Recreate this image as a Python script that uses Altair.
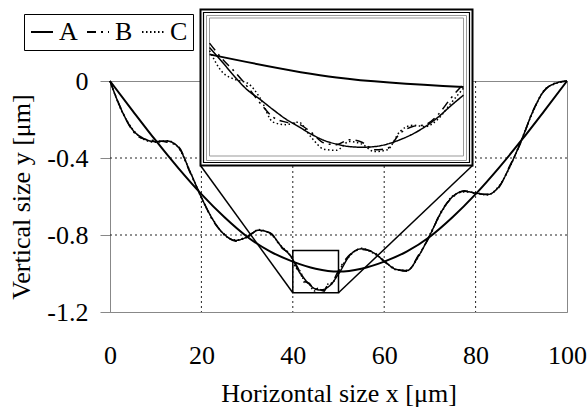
import altair as alt
import pandas as pd

# ---------------- data ----------------
# sampling positions for the wavy profiles (µm)
X = [0, 2.5, 5, 7.5, 10, 12.5, 15, 17.5, 20, 22.5, 25, 27.5, 30, 32.5, 35, 37.5,
     40, 40.5, 41, 41.5, 42, 42.5, 43, 43.5, 44, 44.5, 45, 45.5, 46, 46.5, 47,
     47.5, 48, 48.5, 49, 49.5, 50,
     52.5, 55, 57.5, 60, 62.5, 65, 67.5, 70, 72.5, 75, 77.5, 80, 82.5, 85, 87.5,
     90, 92.5, 95, 97.5, 100]

# smooth wavy profile (solid, series A)
W = [0, -0.15, -0.255, -0.30, -0.315, -0.312, -0.345, -0.47, -0.605, -0.72,
     -0.797, -0.828, -0.81, -0.775, -0.79, -0.86,
     -0.927, -0.950, -0.974, -0.995, -1.010, -1.026, -1.041, -1.053, -1.065,
     -1.075, -1.081, -1.085, -1.086, -1.085, -1.081, -1.074, -1.065, -1.053,
     -1.038, -1.020, -1.003,
     -0.905, -0.872, -0.89, -0.935, -0.978, -0.985, -0.91, -0.80, -0.68, -0.60,
     -0.573, -0.582, -0.59, -0.552, -0.444, -0.31, -0.16, -0.05, -0.012, 0]

# series B (dash-dot)
B = [0, -0.148, -0.26, -0.302, -0.31, -0.318, -0.342, -0.475, -0.602, -0.725,
     -0.795, -0.832, -0.806, -0.778, -0.788, -0.865,
     -0.920, -0.945, -0.966, -0.990, -1.016, -1.038, -1.046, -1.049, -1.062,
     -1.079, -1.082, -1.074, -1.078, -1.090, -1.088, -1.064, -1.053, -1.050,
     -1.034, -1.008, -0.985,
     -0.902, -0.875, -0.886, -0.938, -0.975, -0.988, -0.905, -0.805, -0.676,
     -0.604, -0.57, -0.585, -0.588, -0.556, -0.44, -0.314, -0.157, -0.052, -0.01, 0]

# series C (dotted)
C = [0, -0.153, -0.252, -0.305, -0.318, -0.31, -0.348, -0.468, -0.608, -0.718,
     -0.8, -0.826, -0.813, -0.772, -0.793, -0.858,
     -0.932, -0.966, -0.978, -0.984, -1.008, -1.046, -1.050, -1.046, -1.070,
     -1.089, -1.091, -1.077, -1.081, -1.093, -1.090, -1.061, -1.051, -1.053,
     -1.041, -1.016, -0.992,
     -0.908, -0.869, -0.893, -0.932, -0.98, -0.983, -0.913, -0.797, -0.684,
     -0.597, -0.576, -0.58, -0.592, -0.549, -0.447, -0.307, -0.163, -0.048, -0.014, 0]

# smooth arc (solid, series A)
XA = [0, 5, 10, 15, 20, 25, 30, 35, 40, 45, 50, 55, 60, 65, 70, 75, 80, 85, 90, 95, 100]
YA = [0, -0.156, -0.309, -0.454, -0.588, -0.707, -0.809, -0.885, -0.938, -0.975,
      -0.99, -0.975, -0.938, -0.885, -0.809, -0.707, -0.588, -0.454, -0.309, -0.156, 0]

SERIES = ["A", "B", "C"]
X_TICKS = [0, 20, 40, 60, 80, 100]
Y_TICKS = [-1.2, -0.8, -0.4, 0]
GRID_X = [20, 40, 60, 80]
GRID_Y = [-0.4, -0.8]
BOX_X = [40, 50]          # zoomed region
BOX_Y = [-1.1, -0.88]

# ---------------- layout ----------------
PLOT_W, PLOT_H = 457, 231
PAD = {"left": 110, "top": 81, "right": 20, "bottom": 102}
FONT = "Liberation Serif, Times New Roman, Times, serif"
FS = 26

# inset plot area in pixels relative to the plot origin
IL, IR, IT, IB = 99.5, 353.5, -63.0, 75.0


def px_to_x(px):
    return px / PLOT_W * 100.0


def py_to_y(py):
    return -py / PLOT_H * 1.2


IX0, IX1 = px_to_x(IL), px_to_x(IR)
IY0, IY1 = py_to_y(IT), py_to_y(IB)

xs = alt.Scale(domain=[0, 100], nice=False, zero=False)
ys = alt.Scale(domain=[-1.2, 0], nice=False, zero=False)

XAX = alt.Axis(values=X_TICKS, ticks=False, tickSize=0, grid=False, domainColor="#888",
               labelFont=FONT, labelFontSize=FS, labelPadding=30, labelFlush=False,
               labelOverlap=False, labelColor="black",
               title="Horizontal size x [μm]", titleFont=FONT, titleFontSize=FS,
               titleFontWeight="normal", titleColor="black", titlePadding=12)
YAX = alt.Axis(values=Y_TICKS, tickSize=10, tickColor="#888", grid=False, domainColor="#888",
               labelFont=FONT, labelFontSize=FS, labelPadding=12, labelFlush=False,
               labelOverlap=False, labelColor="black",
               labelExpr="datum.value == 0 ? '0' : '-' + format(abs(datum.value), '.1f')",
               title="Vertical size y [μm]", titleFont=FONT, titleFontSize=FS,
               titleFontWeight="normal", titleColor="black", titlePadding=12)

dash_scale = alt.Scale(domain=SERIES, range=[[1, 0], [9, 5, 2, 5], [1.5, 2.5]])
LEG = alt.Legend(title=None, orient="none", legendX=-86, legendY=-67, direction="horizontal",
                 symbolType="stroke", symbolSize=484, symbolStrokeWidth=2,
                 symbolStrokeColor="black", labelFont=FONT, labelFontSize=FS,
                 labelColor="black", labelOffset=4, columnPadding=5, padding=5,
                 strokeColor="black", fillColor="white")

n = len(X)
prof = pd.DataFrame({"x": X * 3, "y": W + B + C,
                     "series": [SERIES[0]] * n + [SERIES[1]] * n + [SERIES[2]] * n})
arc = pd.DataFrame({"x": XA, "y": YA})


def xenc(f):
    return alt.X(f, type="quantitative", scale=xs, axis=XAX)


def yenc(f):
    return alt.Y(f, type="quantitative", scale=ys, axis=YAX)


one = pd.DataFrame({"k": [0]})

grid_x = alt.Chart(pd.DataFrame({"x": GRID_X})).mark_rule(
    color="#222", strokeDash=[2, 3], strokeWidth=1).encode(x=xenc("x"))
grid_y = alt.Chart(pd.DataFrame({"y": GRID_Y})).mark_rule(
    color="#222", strokeDash=[2, 3], strokeWidth=1).encode(y=yenc("y"))

arc_line = alt.Chart(arc).mark_line(color="black", strokeWidth=2, interpolate="monotone").encode(
    x=xenc("x"), y=yenc("y"))

prof_line = alt.Chart(prof).mark_line(color="black", strokeWidth=1.5, interpolate="monotone").encode(
    x=xenc("x"), y=yenc("y"),
    strokeDash=alt.StrokeDash("series:N", scale=dash_scale, legend=LEG))

box = alt.Chart(pd.DataFrame({"x0": [BOX_X[0]], "x1": [BOX_X[1]],
                              "y0": [BOX_Y[0]], "y1": [BOX_Y[1]]})).mark_rect(
    fill="transparent", stroke="black", strokeWidth=1.5).encode(
    x=xenc("x0"), x2="x1:Q", y=yenc("y0"), y2="y1:Q")

conn_l = alt.Chart(pd.DataFrame({"x": [BOX_X[0]], "y": [BOX_Y[0]]})).mark_rule(
    color="black", strokeWidth=1.5).encode(
    x=xenc("x"), y=yenc("y"), x2=alt.value(90.5), y2=alt.value(84.5))
conn_r = alt.Chart(pd.DataFrame({"x": [BOX_X[1]], "y": [BOX_Y[0]]})).mark_rule(
    color="black", strokeWidth=1.5).encode(
    x=xenc("x"), y=yenc("y"), x2=alt.value(362.5), y2=alt.value(84.5))


def frame(x0, x1, y0, y1, color, width, fill="transparent"):
    return alt.Chart(one).mark_rect(fill=fill, stroke=color, strokeWidth=width).encode(
        x=alt.value(x0), x2=alt.value(x1), y=alt.value(y0), y2=alt.value(y1))


f1 = frame(90.5, 362.5, -71.5, 84.5, "black", 2, "white")
f2 = frame(93.5, 359.5, -68.5, 81.5, "black", 1.2)
f3 = frame(96.5, 356.5, -65.5, 79.5, "#999", 1)
f4 = frame(IL, IR, IT, IB, "#999", 1)

lo, hi = BOX_X
ytop, ybot = BOX_Y[1], BOX_Y[0]
calc = dict(
    xi=f"{IX0} + (datum.x - ({lo})) / ({hi - lo}) * ({IX1 - IX0})",
    yi=f"{IY0} + (datum.y - ({ytop})) / ({ybot - ytop}) * ({IY1 - IY0})",
)
flt = f"datum.x >= {lo} && datum.x <= {hi}"

inset_arc = alt.Chart(arc).transform_filter(flt).transform_calculate(**calc).mark_line(
    color="black", strokeWidth=2, interpolate="monotone").encode(x=xenc("xi:Q"), y=yenc("yi:Q"))
inset_prof = alt.Chart(prof).transform_filter(flt).transform_calculate(**calc).mark_line(
    color="black", strokeWidth=1.5, interpolate="monotone").encode(
    x=xenc("xi:Q"), y=yenc("yi:Q"),
    strokeDash=alt.StrokeDash("series:N", scale=dash_scale, legend=LEG))

chart = alt.layer(
    grid_x, grid_y, arc_line, prof_line, box, conn_l, conn_r,
    f1, f2, f3, f4, inset_arc, inset_prof
).properties(
    width=PLOT_W, height=PLOT_H, padding=PAD,
    autosize=alt.AutoSizeParams(type="none"),
    background="white",
).configure_view(stroke="#888", strokeWidth=1)

chart.save("out.html", embed_options={"renderer": "svg", "actions": False})
